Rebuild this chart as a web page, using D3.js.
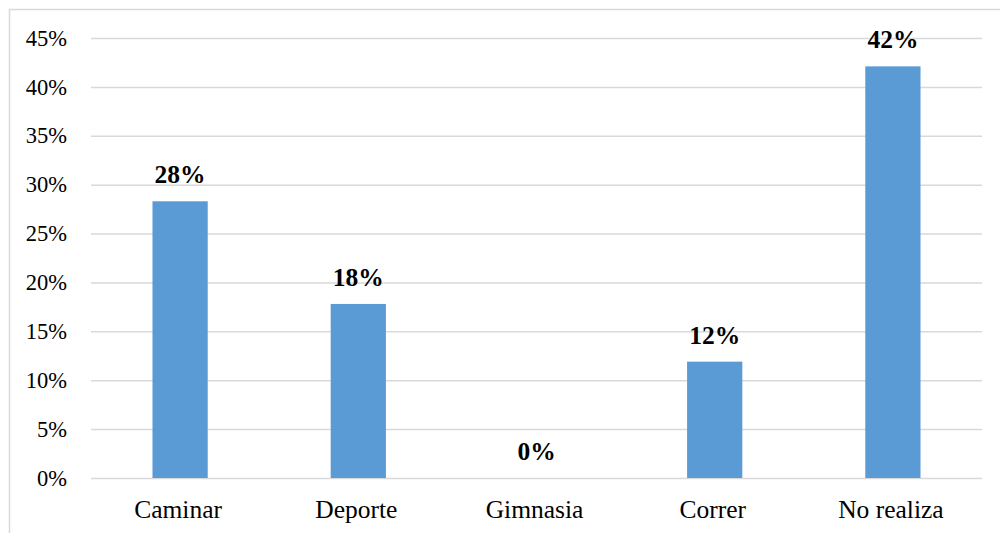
<!DOCTYPE html>
<html>
<head>
<meta charset="utf-8">
<script src="https://cdn.jsdelivr.net/npm/d3@7"></script>
<style>
  html, body { margin: 0; padding: 0; background: #fff; }
  svg { display: block; }
</style>
</head>
<body>
<script>
// Actividad física realizada (porcentaje de encuestados)
const categories = ["Caminar", "Deporte", "Gimnasia", "Correr", "No realiza"];
const values = [28.3, 17.8, 0, 11.9, 42.1];
const yTicks = [0, 5, 10, 15, 20, 25, 30, 35, 40, 45];

const W = 1000, H = 533;
const margin = { left: 91, right: 18, top: 38, bottom: 55 };
const font = "'Liberation Serif', 'Times New Roman', serif";

const svg = d3.select("body").append("svg")
  .attr("width", W).attr("height", H);

// chart frame
svg.append("rect")
  .attr("x", 9.5).attr("y", 9.5)
  .attr("width", W + 20).attr("height", H + 20)
  .attr("fill", "none").attr("stroke", "#d9d9d9").attr("stroke-width", 1.5);

const x = d3.scaleBand()
  .domain(categories)
  .range([margin.left, W - margin.right])
  .paddingInner(0.69).paddingOuter(0.345);

const y = d3.scaleLinear()
  .domain([0, 45])
  .range([H - margin.bottom, margin.top]);

// gridlines
svg.append("g")
  .attr("transform", `translate(${margin.left},0)`)
  .call(d3.axisLeft(y).tickValues(yTicks)
    .tickSize(-(W - margin.right - margin.left)).tickFormat(""))
  .call(g => g.select(".domain").remove())
  .call(g => g.selectAll("line").attr("stroke", "#d9d9d9").attr("stroke-width", 1.5));

// y tick labels
svg.append("g")
  .attr("transform", `translate(${margin.left - 24},0)`)
  .call(d3.axisLeft(y).tickValues(yTicks).tickSize(0).tickPadding(0)
    .tickFormat(d => d + "%"))
  .call(g => g.select(".domain").remove())
  .call(g => g.selectAll("text")
    .attr("font-family", font).attr("font-size", 22.5).attr("fill", "#000"));

// bars
svg.append("g").selectAll("rect")
  .data(categories)
  .join("rect")
  .attr("x", d => x(d))
  .attr("width", x.bandwidth())
  .attr("y", (d, i) => y(values[i]))
  .attr("height", (d, i) => y(0) - y(values[i]))
  .attr("fill", "#5b9bd5");

// value labels
svg.append("g").selectAll("text")
  .data(categories)
  .join("text")
  .attr("x", d => x(d) + x.bandwidth() / 2)
  .attr("y", (d, i) => y(values[i]) - 18)
  .attr("text-anchor", "middle")
  .attr("font-family", font).attr("font-size", 25.5).attr("font-weight", "bold")
  .attr("fill", "#000")
  .text((d, i) => Math.round(values[i]) + "%");

// category labels
svg.append("g")
  .attr("transform", `translate(-2,${y(0)})`)
  .call(d3.axisBottom(x).tickSize(0).tickPadding(0))
  .call(g => g.select(".domain").remove())
  .call(g => g.selectAll("text")
    .attr("dy", null).attr("y", 40)
    .attr("font-family", font).attr("font-size", 25.5).attr("fill", "#000"));
</script>
</body>
</html>
